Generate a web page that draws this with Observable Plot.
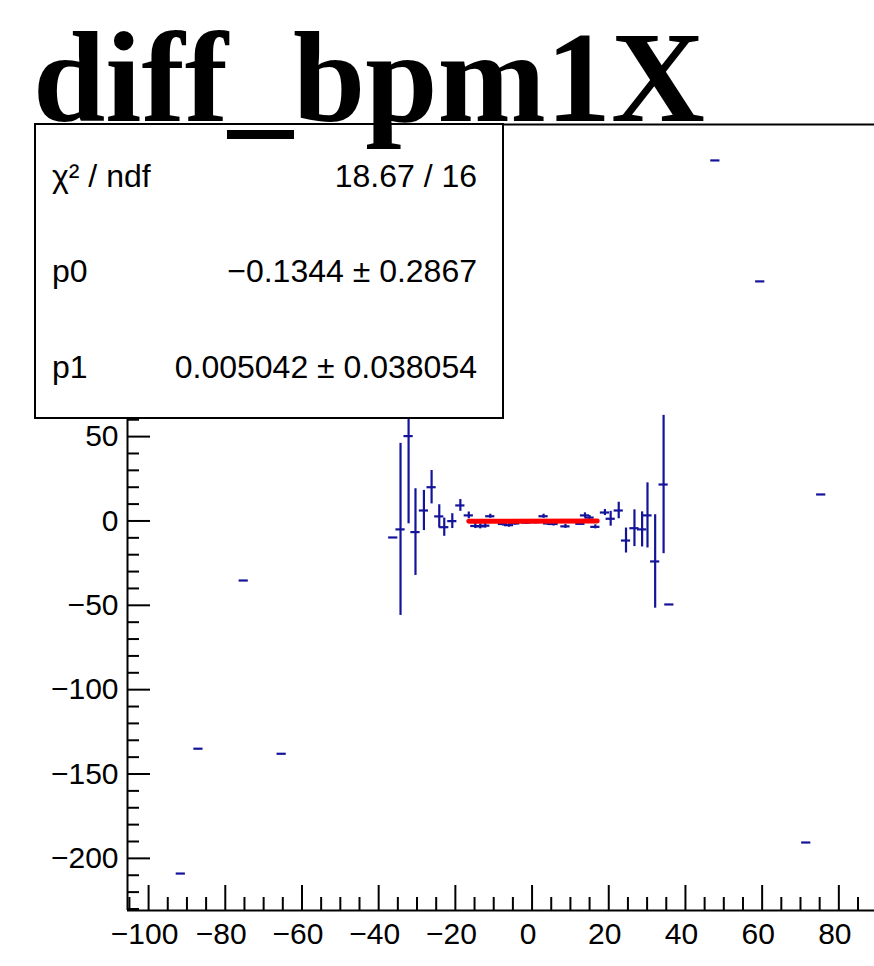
<!DOCTYPE html>
<html><head><meta charset="utf-8">
<script src="https://cdn.jsdelivr.net/npm/d3@7"></script>
<script src="https://cdn.jsdelivr.net/npm/@observablehq/plot@0.6"></script>
<style>
html,body{margin:0;padding:0;background:#fff;}
#wrap{position:relative;width:874px;height:966px;overflow:hidden;background:#fff;}
#wrap > svg{display:block;}
#overlay{position:absolute;left:0;top:0;}
</style></head><body><div id="wrap"></div>
<script>
// ---- data ----
const pointX = [-91.6, -87.0, -75.2, -65.3,
  -36.2, -34.3, -32.2, -30.4, -28.2, -26.2, -24.2, -22.9, -20.8, -18.7,
  -16.5, -14.8, -13.5, -12.2, -10.9, -7.6, -6.0, -4.4, -1.5, 0.9,
  3.0, 4.2, 5.6, 8.7, 12.6, 13.8, 15.0, 16.5,
  19.0, 20.5, 22.6, 24.5, 26.7, 28.7, 30.1, 32.1, 34.3, 35.8,
  47.8, 59.5, 71.5, 75.4];
const pointY = [-209, -135, -35.3, -138,
  -9.8, -5.0, 50.3, -6.6, 6.2, 20.0, 2.7, -3.7, -0.1, 9.2,
  3.3, -3.0, -3.2, -2.8, 2.8, -1.8, -2.5, -1.5, -1.0, -0.7,
  2.8, -1.5, -1.8, -3.2, -1.7, 3.3, 2.0, -3.5,
  5.0, 1.3, 6.2, -11.6, -4.3, -5.0, 3.3, -24.0, 21.6, -49.5,
  213.7, 142, -190.6, 15.7];
const pointErr = [0, 0, 0, 0,
  0, 51, 52, 25.7, 11.9, 9.9, 6.9, 5.4, 4.4, 3.5,
  2.0, 1.5, 1.5, 1.5, 1.2, 1.2, 1.2, 1.0, 1.0, 1.0,
  1.2, 1.2, 1.2, 1.2, 1.0, 1.5, 1.2, 1.2,
  1.8, 4.4, 4.9, 7.4, 10.9, 10.4, 19.3, 27.7, 41, 0,
  0, 0, 0, 0];
const binHalfWidth = 1.2;

const fitX = [-16.5, 17];
const fitY = [-0.218, -0.049];

const xMajorTicks = [-100, -80, -60, -40, -20, 0, 20, 40, 60, 80];
const yMajorTicks = [-200, -150, -100, -50, 0, 50, 100, 150, 200];
const yTickLabels = [-200, -150, -100, -50, 0, 50];
const xMinorTicks = d3.range(-105, 90, 5).filter(v => v % 20 !== 0);
const yMinorTicks = d3.range(-230, 231, 10).filter(v => v % 50 !== 0);
const xDomain = [-105.5, 89.3];
const yDomain = [-230.9, 235];

const statsLabels = ["χ² / ndf", "p0", "p1"];
const statsValues = ["18.67 / 16", "−0.1344 ± 0.2867", "0.005042 ± 0.038054"];
const titleText = "diff_bpm1X";

// ---- build ----
const points = pointX.map((x, i) => ({x, y: pointY[i], err: pointErr[i]}));
const fitLine = fitX.map((x, i) => ({x, y: fitY[i]}));
const fmt = d => d < 0 ? "\u2212" + Math.abs(d) : String(d);

const W = 874, H = 966, mL = 127, mR = 0, mT = 124, mB = 56;
const frameW = W - mL - mR, frameH = H - mT - mB;
const blue = "#14149a";

const chart = Plot.plot({
  width: W, height: H,
  marginLeft: mL, marginRight: mR, marginTop: mT, marginBottom: mB,
  style: {fontFamily: "'Liberation Sans', Arial, sans-serif", fontSize: "30px", color: "black", background: "white"},
  x: {domain: xDomain, axis: null},
  y: {domain: yDomain, axis: null},
  marks: [
    Plot.axisX(xMajorTicks, {tickSize: 0, tickPadding: 12, tickFormat: fmt, label: null, dx: -4}),
    Plot.axisY(yTickLabels, {tickSize: 0, tickPadding: 9, tickFormat: fmt, label: null}),
    Plot.ruleY(yMinorTicks, {y: d => d, insetRight: frameW - 12, stroke: "black", strokeWidth: 2}),
    Plot.ruleY(yMajorTicks, {y: d => d, insetRight: frameW - 23, stroke: "black", strokeWidth: 2}),
    Plot.ruleX(xMinorTicks, {x: d => d, insetTop: frameH - 13, stroke: "black", strokeWidth: 2}),
    Plot.ruleX(xMajorTicks, {x: d => d, insetTop: frameH - 25, stroke: "black", strokeWidth: 2}),
    Plot.ruleX([xDomain[0]], {x: d => d, stroke: "black", strokeWidth: 2}),
    Plot.ruleY([yDomain[0]], {y: d => d, stroke: "black", strokeWidth: 2}),
    Plot.ruleY([yDomain[1]], {y: d => d, stroke: "black", strokeWidth: 2}),
    Plot.ruleX(points.filter(d => d.err > 0), {x: "x", y1: d => d.y - d.err, y2: d => d.y + d.err, stroke: blue, strokeWidth: 2.2}),
    Plot.ruleY(points, {y: "y", x1: d => d.x - binHalfWidth, x2: d => d.x + binHalfWidth, stroke: blue, strokeWidth: 2.2}),
    Plot.line(fitLine, {x: "x", y: "y", stroke: "#ff0000", strokeWidth: 5})
  ]
});
const wrap = document.getElementById("wrap");
wrap.appendChild(chart);

// ---- stats box and title overlay ----
const ns = "http://www.w3.org/2000/svg";
const ov = document.createElementNS(ns, "svg");
ov.setAttribute("id", "overlay");
ov.setAttribute("width", W);
ov.setAttribute("height", H);
const rowBase = [187, 282, 378];
let inner = `<rect x="35" y="124" width="468" height="294" fill="white" stroke="black" stroke-width="2"/>`;
inner += `<g font-family="'Liberation Sans', Arial, sans-serif" font-size="32" fill="black">`;
statsLabels.forEach((lab, i) => {
  inner += `<text x="52" y="${rowBase[i]}">${lab}</text>`;
  inner += `<text x="477" y="${rowBase[i]}" text-anchor="end">${statsValues[i]}</text>`;
});
inner += `</g>`;
inner += `<text x="33" y="121" font-family="'Liberation Serif', 'Times New Roman', serif" font-weight="bold" font-size="130" fill="black">${titleText}</text>`;
ov.innerHTML = inner;
wrap.appendChild(ov);
</script></body></html>
